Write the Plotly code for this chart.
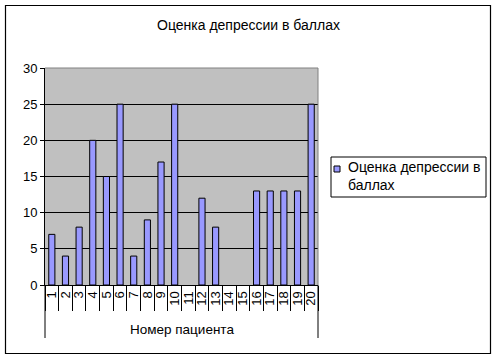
import plotly.graph_objects as go

patients = list(range(1, 21))
scores = [7, 4, 8, 20, 15, 25, 4, 9, 17, 25, 0, 12, 8, 0, 0, 13, 13, 13, 13, 25]
series_name = "Оценка депрессии в баллах"
legend_lines = ["Оценка депрессии в", "баллах"]
x_title = "Номер пациента"
chart_title = "Оценка депрессии в баллах"
y_ticks = [0, 5, 10, 15, 20, 25, 30]

FONT = "Liberation Sans, Arial, sans-serif"
BAR = "#9999FF"

L, R, T, B = 45, 318, 68, 285
W, H = 498, 361
pw, ph = R - L, B - T

def px(x):
    return (x - L) / pw

def py(y):
    return (B - y) / ph

fig = go.Figure()
fig.add_trace(go.Bar(
    x=patients, y=scores, width=0.45, name=series_name,
    marker=dict(color=BAR,
                line=dict(color="black", width=[1 if v else 0 for v in scores])),
    showlegend=False, hoverinfo="skip",
))

fig.update_layout(
    width=W, height=H,
    margin=dict(l=L, r=W - R, t=T, b=H - B, pad=0, autoexpand=False),
    paper_bgcolor="white", plot_bgcolor="#C0C0C0",
    font=dict(family=FONT, size=13, color="black"),
    showlegend=False,
    bargap=0,
)
fig.update_xaxes(
    range=[0.5, 20.5], tickmode="array", tickvals=patients,
    ticktext=[str(p) for p in patients], tickangle=-90, ticks="",
    showgrid=False, zeroline=False, automargin=False,
    showline=True, linecolor="black", linewidth=1,
    tickfont=dict(family=FONT, size=13, color="black"),
    minor=dict(ticks="outside", tick0=0.5, dtick=1, ticklen=25,
               tickcolor="black", tickwidth=1, showgrid=False),
)
fig.update_yaxes(
    range=[0, 30], tickmode="array", tickvals=y_ticks,
    ticks="outside", ticklen=4, tickcolor="black",
    showgrid=True, gridcolor="black", gridwidth=1, zeroline=False,
    automargin=False,
    showline=True, linecolor="black", linewidth=1,
    tickfont=dict(family=FONT, size=13, color="black"),
)

# plot area border (top/right gray)
fig.add_shape(type="line", xref="paper", yref="paper", x0=0, x1=1, y0=1, y1=1,
              line=dict(color="#808080", width=1), layer="above")
fig.add_shape(type="line", xref="paper", yref="paper", x0=1, x1=1, y0=0, y1=1,
              line=dict(color="#808080", width=1), layer="above")
# category axis outer lines
for xp in (0, 1):
    fig.add_shape(type="line", xref="paper", yref="paper", x0=xp, x1=xp,
                  y0=0, y1=py(338), line=dict(color="black", width=1))
# outer chart frame
fig.add_shape(type="rect", xref="paper", yref="paper",
              x0=px(5.5), x1=px(490.5), y0=py(353.5), y1=py(5.5),
              line=dict(color="black", width=1.2))

# legend box
fig.add_shape(type="rect", xref="paper", yref="paper",
              x0=px(331), x1=px(486), y0=py(197), y1=py(157),
              line=dict(color="black", width=1), fillcolor="white")
fig.add_shape(type="rect", xref="paper", yref="paper",
              x0=px(334), x1=px(340), y0=py(172), y1=py(166),
              line=dict(color="black", width=1), fillcolor=BAR)
fig.add_annotation(text="<br>".join(legend_lines), xref="paper", yref="paper",
                   x=px(346), y=py(176), showarrow=False, align="left",
                   xanchor="left", yanchor="middle",
                   font=dict(family=FONT, size=14, color="black"))

fig.add_annotation(text=chart_title, xref="paper", yref="paper",
                   x=px(248), y=py(25), showarrow=False,
                   xanchor="center", yanchor="middle",
                   font=dict(family=FONT, size=14, color="black"))
fig.add_annotation(text=x_title, xref="paper", yref="paper",
                   x=px(182), y=py(329), showarrow=False,
                   xanchor="center", yanchor="middle",
                   font=dict(family=FONT, size=13.5, color="black"))

fig.write_html("out.html", config={"displayModeBar": False, "staticPlot": True},
               post_script="document.body.style.margin='0';document.body.style.padding='0';")
